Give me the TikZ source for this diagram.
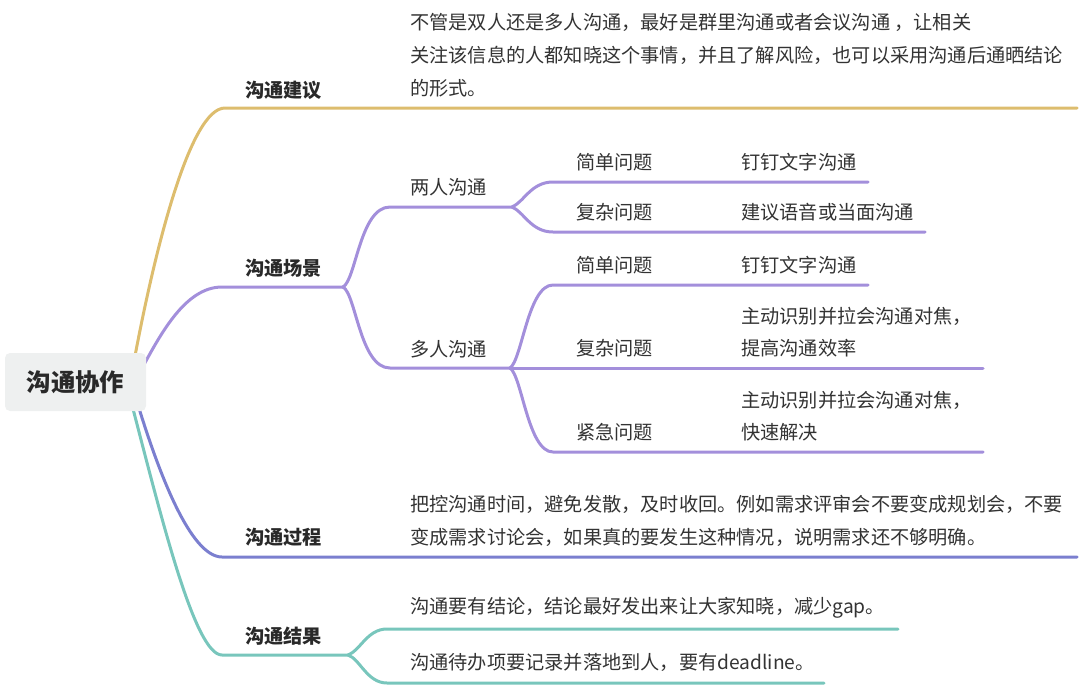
\documentclass[tikz,border=0pt]{standalone}
\usepackage{fontspec}
\setmainfont{Noto Sans CJK SC}
\definecolor{cgold}{HTML}{DDBD6E}
\definecolor{cpur}{HTML}{A38FDB}
\definecolor{cblue}{HTML}{7B7FCF}
\definecolor{cteal}{HTML}{78C6BC}
\definecolor{ctext}{HTML}{333333}
\definecolor{croot}{HTML}{EEF0F0}
\begin{document}
\begin{tikzpicture}[x=1pt,y=-1pt,
  txt/.style={anchor=west,inner sep=0pt,text=ctext,font=\fontsize{19.2}{33}\selectfont},
  lab/.style={anchor=west,inner sep=0pt,text=ctext!80!black,font=\bfseries\fontsize{19.2}{33}\selectfont},
  br/.style={line width=3pt,line cap=round},
  gold/.style={br,draw=cgold},
  pur/.style={br,draw=cpur},
  blu/.style={br,draw=cblue},
  tea/.style={br,draw=cteal},
  rootbox/.style={fill=croot,rounded corners=5pt,minimum width=141pt,minimum height=58pt,inner sep=0pt,
    text=ctext!80!black,font=\bfseries\fontsize{24.4}{28}\selectfont}]
\useasboundingbox (0,0) rectangle (1080,686);

% coordinates
\coordinate (g0) at (135,356);
\coordinate (g1) at (225,108);
\coordinate (g2) at (1077,108);
\coordinate (p0) at (140,372);
\coordinate (p1) at (222,287);
\coordinate (p2) at (343,287);
\coordinate (pa) at (390,207);
\coordinate (pb) at (512,207);
\coordinate (pa1) at (553,182);
\coordinate (pa1e) at (868,182);
\coordinate (pa2) at (553,232);
\coordinate (pa2e) at (925,232);
\coordinate (pc) at (390,368);
\coordinate (pd) at (510,368);
\coordinate (pd1) at (553,285);
\coordinate (pd1e) at (868,285);
\coordinate (pd2e) at (983,368);
\coordinate (pd3) at (553,452);
\coordinate (pd3e) at (983,452);
\coordinate (b0) at (138,405);
\coordinate (b1) at (222,557);
\coordinate (b2) at (1077,557);
\coordinate (t0) at (132,405);
\coordinate (t1) at (222,655);
\coordinate (t2) at (348,655);
\coordinate (t3) at (387,629);
\coordinate (t3e) at (898,629);
\coordinate (t4) at (387,683);
\coordinate (t4e) at (824,683);

% gold branch
\draw[gold] (g0) .. controls (155,250) and (190,108) .. (g1) -- (g2);
% purple branch
\draw[pur] (p0) .. controls (160,335) and (185,287) .. (p1) -- (p2);
\draw[pur] (p2) .. controls +(13,-7) and +(-30,0) .. (pa) -- (pb);
\draw[pur] (p2) .. controls +(13,7) and +(-30,0) .. (pc) -- (pd);
\draw[pur] (pb) .. controls +(12,-5) and +(-22,0) .. (pa1) -- (pa1e);
\draw[pur] (pb) .. controls +(12,5) and +(-22,0) .. (pa2) -- (pa2e);
\draw[pur] (pd) .. controls +(12,-8) and +(-25,0) .. (pd1) -- (pd1e);
\draw[pur] (pd) -- (pd2e);
\draw[pur] (pd) .. controls +(12,8) and +(-25,0) .. (pd3) -- (pd3e);
% blue branch
\draw[blu] (b0) .. controls (158,470) and (190,557) .. (b1) -- (b2);
% teal branch
\draw[tea] (t0) .. controls (162,520) and (195,655) .. (t1) -- (t2);
\draw[tea] (t2) .. controls +(12,-4) and +(-20,0) .. (t3) -- (t3e);
\draw[tea] (t2) .. controls +(12,4) and +(-20,0) .. (t4) -- (t4e);

% root
\node[rootbox] (root) at (75.5,382) {沟通协作};

% level 1
\node[lab] (l1) at (245,90) {沟通建议};
\node[lab] (l2) at (245,268) {沟通场景};
\node[lab] (l3) at (245,537) {沟通过程};
\node[lab] (l4) at (245,636) {沟通结果};

% advice paragraph
\node[txt] (a1) at (410,22) {不管是双人还是多人沟通，最好是群里沟通或者会议沟通 ，让相关};
\node[txt] (a2) at (410,55) {关注该信息的人都知晓这个事情，并且了解风险，也可以采用沟通后通晒结论};
\node[txt] (a3) at (410,88) {的形式。};

% scenes
\node[txt] (s1) at (410,187) {两人沟通};
\node[txt] (s2) at (410,349) {多人沟通};
\node[txt] (q1) at (576,162) {简单问题};
\node[txt] (q2) at (576,212) {复杂问题};
\node[txt] (q3) at (576,265) {简单问题};
\node[txt] (q4) at (576,348) {复杂问题};
\node[txt] (q5) at (576,432) {紧急问题};
\node[txt] (r1) at (741,162) {钉钉文字沟通};
\node[txt] (r2) at (741,212) {建议语音或当面沟通};
\node[txt] (r3) at (741,265) {钉钉文字沟通};
\node[txt] (r4a) at (741,316) {主动识别并拉会沟通对焦，};
\node[txt] (r4b) at (741,348) {提高沟通效率};
\node[txt] (r5a) at (741,400) {主动识别并拉会沟通对焦，};
\node[txt] (r5b) at (741,432) {快速解决};

% process
\node[txt] (c1) at (410,504) {把控沟通时间，避免发散，及时收回。例如需求评审会不要变成规划会，不要};
\node[txt] (c2) at (410,537) {变成需求讨论会，如果真的要发生这种情况，说明需求还不够明确。};

% result
\node[txt] (e1) at (410,608) {沟通要有结论，结论最好发出来让大家知晓，减少gap。};
\node[txt] (e2) at (410,662) {沟通待办项要记录并落地到人，要有deadline。};
\end{tikzpicture}
\end{document}
